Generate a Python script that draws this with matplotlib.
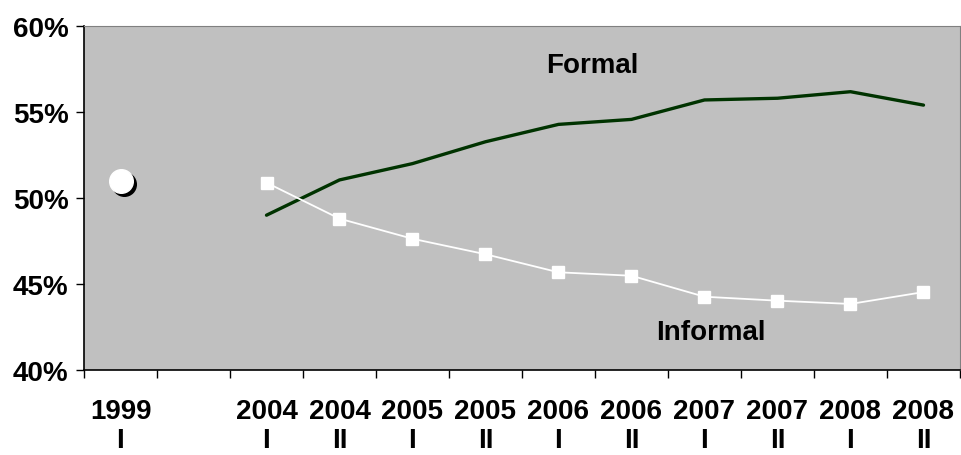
import matplotlib
matplotlib.use('Agg')
import matplotlib.pyplot as plt
import matplotlib.transforms as mtransforms
from matplotlib.ticker import PercentFormatter

# categories (index 1 is an empty slot between 1999 and 2004)
years = ['1999', '', '2004', '2004', '2005', '2005', '2006', '2006', '2007', '2007', '2008', '2008']
halves = ['I', '', 'I', 'II', 'I', 'II', 'I', 'II', 'I', 'II', 'I', 'II']

# series (percent)
start_1999 = 51.0
formal = [49.0, 51.05, 52.0, 53.27, 54.28, 54.57, 55.70, 55.80, 56.18, 55.40]
informal = [50.89, 48.8, 47.63, 46.73, 45.68, 45.48, 44.26, 44.03, 43.84, 44.53]

plt.rcParams['font.family'] = ['Liberation Sans', 'DejaVu Sans']
plt.rcParams['font.weight'] = 'bold'

fig = plt.figure(figsize=(9.62, 4.56), dpi=100)
ax = fig.add_axes([84 / 962, (456 - 371) / 456, 876 / 962, 344 / 456])
ax.set_facecolor('#C0C0C0')

xs = list(range(2, 2 + len(formal)))
ax.plot(xs, formal, color='#003300', lw=2.4, solid_capstyle='round', zorder=3)
ax.plot(xs, informal, color='white', lw=1.3, marker='s', ms=8,
        mfc='white', mec='white', zorder=4)

# 1999 point with drop shadow
shadow = mtransforms.offset_copy(ax.transData, fig=fig, x=3, y=-3, units='dots')
ax.plot([0], [start_1999], 'o', ms=17, color='black', mec='black', transform=shadow, zorder=4)
ax.plot([0], [start_1999], 'o', ms=17, color='white', mec='white', zorder=5)

ax.text(6.47, 57.73, 'Formal', fontsize=20, fontweight='bold', ha='center', va='center')
ax.text(8.09, 42.2, 'Informal', fontsize=20, fontweight='bold', ha='center', va='center')

ax.set_xlim(-0.5, len(years) - 0.5)
ax.set_ylim(40, 60)
ax.set_yticks([40, 45, 50, 55, 60])
ax.yaxis.set_major_formatter(PercentFormatter(decimals=0))

ax.set_xticks(range(len(years)))
ax.set_xticklabels([f'{y}\n{h}' if y else '' for y, h in zip(years, halves)],
                   linespacing=1.15)
ax.set_xticks([i - 0.5 for i in range(len(years) + 1)], minor=True)
ax.tick_params(axis='x', which='major', length=0, pad=20, labelsize=20)
ax.tick_params(axis='x', which='minor', length=6, width=1, direction='out')
ax.tick_params(axis='y', length=6, width=1, direction='out', pad=5, labelsize=20)

for side in ('top', 'right'):
    ax.spines[side].set_color('#808080')
for side in ('left', 'bottom'):
    ax.spines[side].set_color('black')
    ax.spines[side].set_linewidth(1.2)

fig.savefig('out.png', dpi=100)
